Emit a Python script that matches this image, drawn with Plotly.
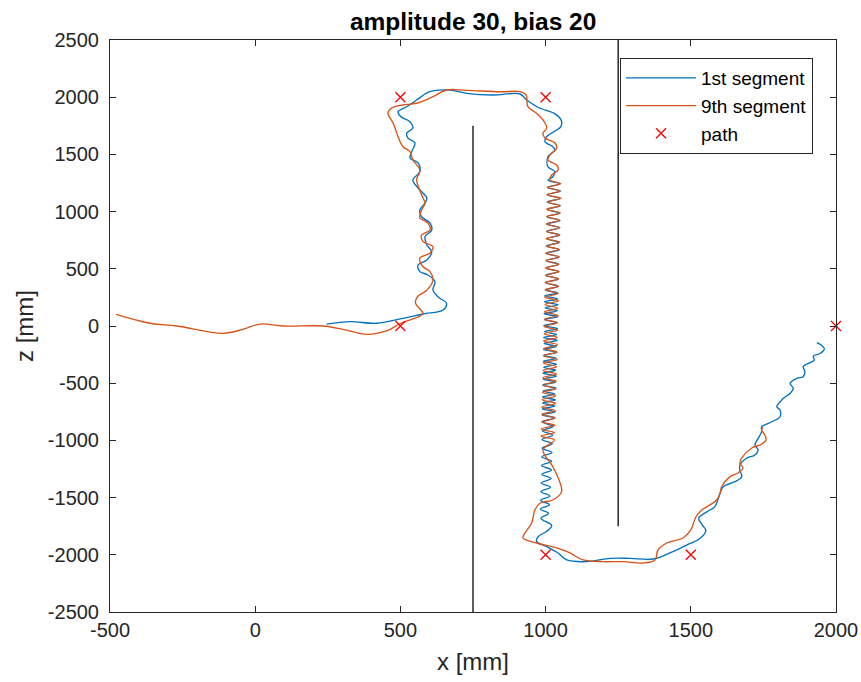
import plotly.graph_objects as go

# ---------------- data ----------------
path_x = [500, 1000, 500, 1000, 1500, 2000]
path_z = [2000, 2000, 0, -2000, -2000, 0]

wall1_x = [750, 750]
wall1_z = [-2500, 1750]
wall2_x = [1250, 1250]
wall2_z = [-1750, 2500]

x_ticks = [-500, 0, 500, 1000, 1500, 2000]
z_ticks = [-2500, -2000, -1500, -1000, -500, 0, 500, 1000, 1500, 2000, 2500]

# 1st segment (blue)
seg1_head_x = [246, 326, 418, 509, 578, 647, 659, 629, 612, 619, 595, 567, 561, 591, 608, 591, 585, 608,
               602, 573, 567, 585, 591, 561, 543, 567, 561, 533, 539, 550, 526, 522, 543, 533, 502, 492,
               522, 556, 591, 612, 671, 728, 819, 912, 935, 975, 1035, 1055, 1052, 1038, 1004, 998, 1025,
               1032, 1008, 1008, 1032, 1025]
seg1_head_z = [17, 38, 24, 67, 105, 140, 198, 256, 315, 387, 446, 475, 533, 577, 649, 708, 781, 839,
               900, 955, 1014, 1075, 1119, 1206, 1276, 1349, 1425, 1468, 1524, 1600, 1643, 1687, 1731, 1786, 1829, 1873,
               1917, 1975, 2037, 2055, 2062, 2034, 2019, 2028, 1975, 1910, 1850, 1790, 1740, 1713, 1655, 1611, 1567,
               1538, 1480, 1392, 1349, 1305]
seg1_dense_a_x = [1008, 1050, 1006, 1052, 1007, 1049, 1005, 1051, 1006, 1048, 1004, 1050, 1005, 1047, 1003,
                  1049, 1004, 1046, 1002, 1048, 1003, 1045, 1001, 1046, 1002, 1044, 1000, 1045, 1001, 1043, 999]
seg1_dense_a_z = [1275, 1243, 1211, 1179, 1147, 1115, 1083, 1051, 1019, 987, 955, 923, 891, 859, 827,
                  795, 763, 731, 699, 667, 635, 603, 571, 539, 507, 475, 443, 411, 379, 347, 315]
seg1_dense_b_x = [1042, 997, 1041, 996, 1043, 998, 1040, 995, 1042, 997, 1039, 994, 1041, 996, 1038, 993,
                  1040, 995, 1037, 993, 1039, 994, 1036, 992, 1038, 993, 1035, 991, 1037, 992, 1034, 990,
                  1036, 991, 1033, 989, 1034, 990, 1032, 989, 1033, 988, 1031]
seg1_dense_b_z = [289, 263, 237, 211, 185, 159, 133, 107, 81, 55, 29, 3, -23, -49, -75, -101,
                  -127, -153, -179, -205, -231, -257, -283, -309, -335, -361, -387, -413, -439, -465, -491, -517,
                  -543, -569, -595, -621, -647, -673, -699, -725, -751, -777, -803]
seg1_dense_c_x = [990, 1026, 989, 1024, 988, 1023, 988, 1022, 987, 1021, 986, 1020, 987, 1019, 985, 1017,
                  984, 1015, 983, 1013, 982, 1010]
seg1_dense_c_z = [-840, -878, -916, -954, -992, -1030, -1068, -1106, -1144, -1182, -1220, -1258, -1296,
                  -1334, -1372, -1410, -1448, -1486, -1524, -1562, -1600, -1638]
seg1_tail_x = [984, 1021, 1004, 974, 969, 1004, 1043, 1073, 1141, 1222, 1291, 1370, 1428, 1486, 1530, 1552,
               1540, 1527, 1555, 1583, 1595, 1612, 1652, 1675, 1669, 1669, 1692, 1721, 1732, 1721, 1732, 1744,
               1744, 1767, 1807, 1807, 1796, 1819, 1842, 1853, 1842, 1865, 1887, 1893, 1887, 1910, 1925, 1922,
               1945, 1960, 1951, 1934]
seg1_tail_z = [-1680, -1745, -1795, -1842, -1885, -1929, -1984, -2045, -2060, -2031, -2031, -2037, -1984,
               -1915, -1860, -1790, -1740, -1680, -1625, -1579, -1505, -1405, -1361, -1317, -1259, -1215, -1156,
               -1128, -1084, -1040, -982, -924, -880, -851, -793, -734, -705, -632, -588, -545, -501, -457, -443,
               -399, -356, -320, -300, -262, -240, -200, -170, -146]

# 9th segment (orange)
seg9_head_x = [-479, -362, -270, -111, -42, 17, 96, 233, 302, 385, 454, 502, 567, 578, 552, 560, 590, 612,
               602, 578, 567, 602, 612, 578, 573, 602, 595, 567, 573, 585, 578, 556, 567, 543, 533, 509, 492,
               475, 457, 470, 509, 556, 612, 659, 728, 843, 912, 933, 939, 969, 991, 1004, 991, 998, 1032, 1038,
               1015, 1008, 1038, 1043, 1021, 1015]
seg9_head_z = [102, 24, 0, -64, -29, 17, 0, 0, -29, -73, -41, 24, 87, 111, 200, 260, 310, 400,
               475, 518, 594, 638, 693, 737, 795, 839, 900, 944, 1014, 1075, 1119, 1276, 1364, 1451, 1524, 1567, 1655,
               1774, 1862, 1906, 1932, 1947, 2004, 2063, 2060, 2048, 2048, 2019, 1917, 1859, 1801, 1731, 1687, 1643,
               1600, 1556, 1495, 1451, 1407, 1364, 1320, 1276]
seg9_dense_x = [1052, 1006, 1050, 1004, 1053, 1007, 1049, 1003, 1051, 1005, 1048, 1002, 1050, 1004, 1047, 1001,
                1049, 1003, 1046, 1000, 1048, 1002, 1045, 999, 1047, 1000, 1044, 998, 1045, 999, 1043, 997,
                1044, 998, 1042, 996, 1043, 996, 1041, 995, 1042, 995, 1040, 993, 1041, 994, 1039, 992,
                1040, 992, 1038, 991, 1038, 990, 1037, 990, 1036, 989, 1035, 988, 1035, 987, 1034, 987,
                1033, 986, 1032, 985, 1031, 984, 1030]
seg9_dense_z = [1244, 1212, 1180, 1148, 1116, 1084, 1052, 1020, 988, 956, 924, 892, 860, 828, 796, 764,
                732, 700, 668, 636, 604, 572, 540, 508, 476, 444, 412, 380, 348, 316, 284, 252,
                220, 188, 156, 124, 92, 60, 28, -4, -36, -68, -100, -132, -164, -196, -228, -260,
                -292, -324, -356, -388, -420, -452, -484, -516, -548, -580, -612, -644, -676, -708, -740, -772,
                -804, -836, -868, -900, -932, -964, -996]
seg9_tail_x = [991, 1025, 1050, 1055, 1025, 981, 963, 952, 929, 922, 969, 1038, 1084, 1129, 1198, 1267, 1335,
               1377, 1387, 1417, 1473, 1500, 1517, 1535, 1589, 1601, 1606, 1635, 1662, 1680, 1669, 1675, 1710,
               1738, 1759, 1755, 1744, 1748]
seg9_tail_z = [-1084, -1230, -1372, -1448, -1521, -1547, -1608, -1722, -1809, -1853, -1897, -1940, -1984,
               -2045, -2060, -2060, -2072, -2045, -1958, -1897, -1853, -1783, -1672, -1615, -1521, -1460, -1405,
               -1317, -1285, -1241, -1198, -1154, -1066, -1040, -996, -953, -909, -883]

seg1_x = seg1_head_x + seg1_dense_a_x + seg1_dense_b_x + seg1_dense_c_x + seg1_tail_x
seg1_z = seg1_head_z + seg1_dense_a_z + seg1_dense_b_z + seg1_dense_c_z + seg1_tail_z
seg9_x = seg9_head_x + seg9_dense_x + seg9_tail_x
seg9_z = seg9_head_z + seg9_dense_z + seg9_tail_z

BLUE = "#0072BD"
ORANGE = "#D95319"
AXC = "#262626"
FONT = "Liberation Sans, Arial, sans-serif"

fig = go.Figure()
fig.add_trace(go.Scatter(x=seg1_x, y=seg1_z, mode="lines", name="1st segment",
                         line=dict(color=BLUE, width=1.35, shape="spline", smoothing=1.0)))
fig.add_trace(go.Scatter(x=seg9_x, y=seg9_z, mode="lines", name="9th segment",
                         line=dict(color=ORANGE, width=1.35, shape="spline", smoothing=1.0)))
fig.add_trace(go.Scatter(x=path_x, y=path_z, mode="markers", name="path", cliponaxis=False,
                         marker=dict(symbol="x-thin", size=10, color="#FF0000",
                                     line=dict(color="#FF0000", width=1.3))))
fig.add_trace(go.Scatter(x=wall1_x, y=wall1_z, mode="lines", showlegend=False,
                         line=dict(color=AXC, width=1.5), hoverinfo="skip"))
fig.add_trace(go.Scatter(x=wall2_x, y=wall2_z, mode="lines", showlegend=False,
                         line=dict(color=AXC, width=1.5), hoverinfo="skip"))

axis_common = dict(showgrid=False, zeroline=False, showline=True, mirror="allticks",
                   linecolor=AXC, linewidth=1, ticks="inside", ticklen=6, tickcolor=AXC,
                   tickfont=dict(family=FONT, size=20, color=AXC))
fig.update_xaxes(range=[-500, 2000], tickvals=x_ticks, ticktext=[str(v) for v in x_ticks],
                 title=dict(text="x [mm]", font=dict(family=FONT, size=24, color=AXC), standoff=13),
                 **axis_common)
fig.update_yaxes(range=[-2500, 2500], tickvals=z_ticks, ticktext=[str(v) for v in z_ticks],
                 title=dict(text="z [mm]", font=dict(family=FONT, size=24, color=AXC), standoff=7),
                 ticklabelstandoff=6, **axis_common)

fig.update_layout(
    width=861, height=682,
    margin=dict(l=110, r=25, t=40, b=70, autoexpand=False),
    paper_bgcolor="white", plot_bgcolor="white",
    title=dict(text="<b>amplitude 30, bias 20</b>", x=0.5495, xanchor="center", y=0.968, yanchor="middle",
               font=dict(family=FONT, size=24.5, color="#000000")),
    legend=dict(x=0.7025, y=0.9685, xanchor="left", yanchor="top",
                bgcolor="white", bordercolor=AXC, borderwidth=1,
                font=dict(family=FONT, size=19, color="#000000"),
                itemwidth=70, tracegroupgap=0),
    showlegend=True,
)

fig.write_html("out.html", config={"displayModeBar": False},
               post_script="document.body.style.margin='0';document.body.style.overflow='hidden';")
